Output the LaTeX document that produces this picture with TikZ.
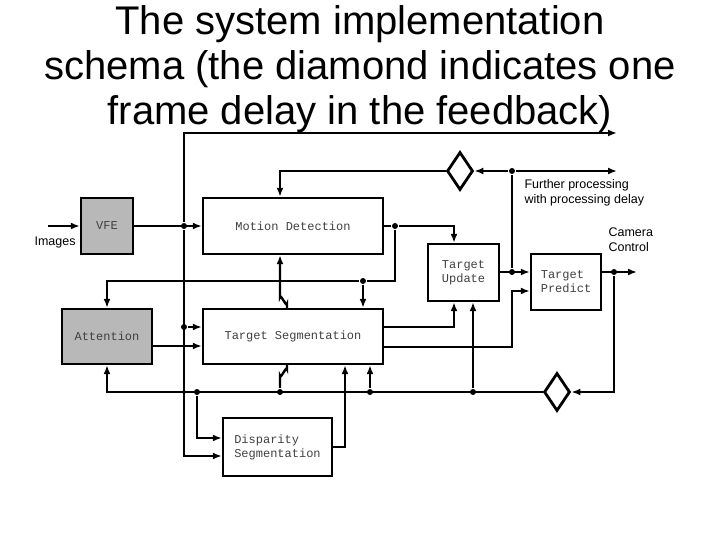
\documentclass[tikz,border=0pt]{standalone}
\usepackage{fontspec}
\setmainfont{Liberation Sans}
\newfontfamily\boxfont{Liberation Mono}
\usetikzlibrary{arrows.meta,shapes.geometric}
\begin{document}
\begin{tikzpicture}[x=1pt, y=-1pt, line width=2.4pt,
    blk/.style={draw, rectangle, font=\boxfont\fontsize{12}{14}\selectfont, text=black!75, align=left, inner sep=0pt},
    dly/.style={draw, diamond, minimum width=26pt, minimum height=38pt, inner sep=0pt, line width=2.8pt},
    dot/.style={circle, fill, inner sep=0pt, minimum size=6pt},
    arr/.style={-{Latex[length=9pt,width=7pt]}},
    lbl/.style={font=\fontsize{12.5}{15}\selectfont, align=left, anchor=west}]
\useasboundingbox (0,0) rectangle (720,540);

% titre
\node[font=\fontsize{40}{45}\selectfont, align=center, anchor=north] (title) at (360,1)
  {The system implementation\\schema (the diamond indicates one\\frame delay in the feedback)};

% blocs
\node[blk, fill=black!28, minimum width=52pt, minimum height=56pt] (vfe) at (107,226) {VFE};
\node[blk, minimum width=180pt, minimum height=56pt] (md) at (293,226) {Motion Detection};
\node[blk, fill=black!28, minimum width=90pt, minimum height=55pt] (att) at (107,336.5) {Attention};
\node[blk, minimum width=180pt, minimum height=55pt] (ts) at (293,336.5) {Target Segmentation};
\node[blk, minimum width=71pt, minimum height=57pt] (tu) at (463.5,272.5) {Target\\Update};
\node[blk, minimum width=70pt, minimum height=56pt] (tp) at (566,282) {Target\\Predict};
\node[blk, minimum width=109pt, minimum height=58pt] (ds) at (277.5,447) {Disparity\\Segmentation};
\node[dly, fill=white] (d1) at (460,171) {};
\node[dly, fill=white] (d2) at (557,392) {};

% textes
\node[lbl] (imgs) at (30,242) {Images};
\node[lbl] (fp) at (520,193) {Further processing\\with processing delay};
\node[lbl] (cc) at (604,240) {Camera\\Control};

% points de jonction
\coordinate (in) at (48,226);
\node[dot] (j1) at (184,226) {};
\node[dot] (j2) at (184,327) {};
\node[dot] (j3) at (395,226) {};
\node[dot] (j4) at (363,281) {};
\node[dot] (j5) at (512,171) {};
\node[dot] (j6) at (512,272) {};
\node[dot] (j7) at (614,272) {};
\node[dot] (j8) at (197,392) {};
\node[dot] (j9) at (280,392) {};
\node[dot] (j10) at (370,392) {};
\node[dot] (j11) at (473,392) {};
\coordinate (outtop) at (617,133);
\coordinate (outfp) at (617,171);
\coordinate (outcc) at (637,272);

% entree
\draw[arr] (in) -- (vfe.west);
\draw[arr] (vfe.east) -- (md.west);

% bus gauche
\draw[arr] (j1) |- (184,133) -- (outtop);
\draw[arr] (j1) -- (184,456) -- (ds.west |- 0,456);
\draw[arr] (j2) -- (ts.west |- 0,327);
\draw[arr] (att.east |- 0,346) -- (ts.west |- 0,346);

% retour avec retard (haut)
\draw[arr] (j5) -- (d1.east);
\draw[arr] (d1.west) -- (280,171) -- (md.north -| 280,0);
\draw[arr] (j5) -- (outfp);
\draw (j5) -- (j6);

% sortie motion detection
\draw (md.east) -- (j3);
\draw[arr] (j3) -- (454,226) -- (tu.north -| 454,0);
\draw (j3) -- (395,281) -- (j4);
\draw[arr] (j4) -- (107,281) -- (att.north);
\draw[arr] (j4) -- (ts.north -| 363,0);

% target segmentation -> update / predict
\draw[arr] (ts.east |- 0,327) -- (454,327) -- (tu.south -| 454,0);
\draw[arr] (ts.east |- 0,347) -- (512,347) -- (512,291) -- (tp.west |- 0,291);
\draw[arr] (tu.east |- 0,272) -- (tp.west |- 0,272);

% sortie camera
\draw[arr] (tp.east |- 0,272) -- (outcc);
\draw[arr] (j7) -- (614,392) -- (d2.east);

% retour avec retard (bas)
\draw[arr] (d2.west) -- (107,392) -- (att.south);
\draw[arr] (j11) -- (tu.south -| 473,0);
\draw[arr] (j10) -- (ts.south -| 370,0);
\draw[arr] (j8) |- (ds.west |- 0,438);
\draw[arr] (ds.east |- 0,447) -- (345,447) -- (ts.south -| 345,0);

% liaisons courbees md / ts
\draw[arr] (ts.north -| 287,0) -- (287,304) to[out=-90,in=90] (280,297) -- (md.south -| 280,0);
\draw (ts.south -| 287,0) -- (287,369) to[out=90,in=-90] (280,376) -- (j9);
\end{tikzpicture}
\end{document}
